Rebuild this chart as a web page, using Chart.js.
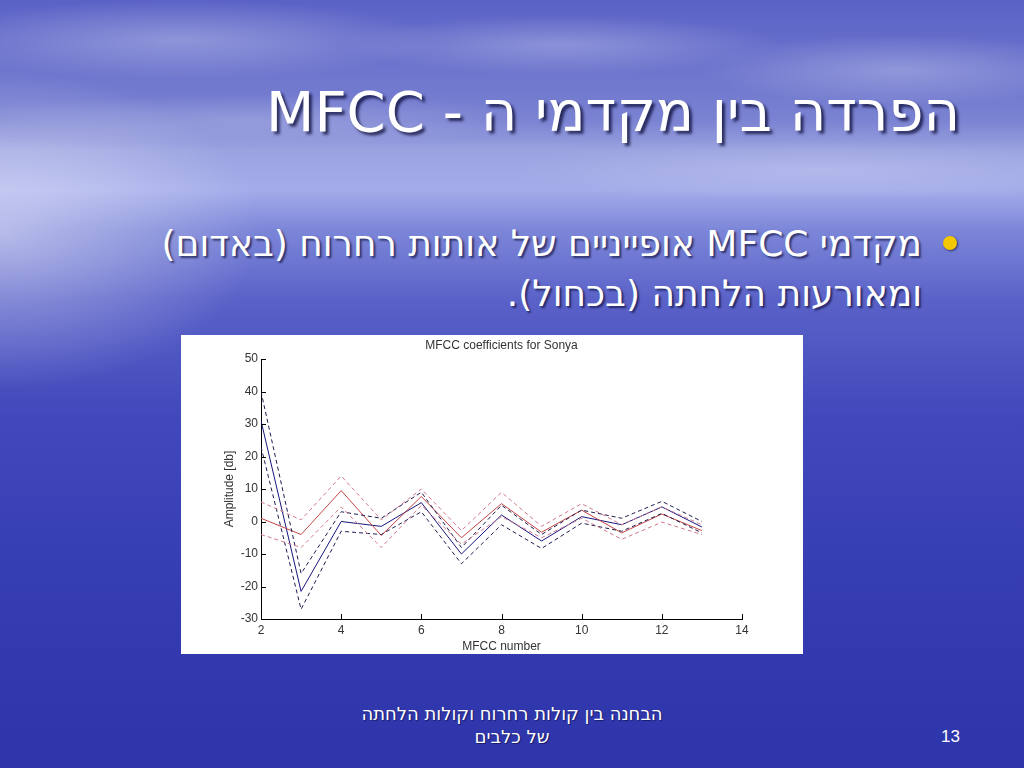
<!DOCTYPE html>
<html lang="he">
<head>
<meta charset="utf-8">
<title>MFCC</title>
<script src="https://cdn.jsdelivr.net/npm/chart.js@4.4.1/dist/chart.umd.min.js"></script>
<style>
  html, body { margin: 0; padding: 0; }
  body {
    width: 1024px; height: 768px; overflow: hidden; position: relative;
    font-family: "DejaVu Sans", sans-serif;
    background:
      radial-gradient(ellipse 260px 40px at 180px 40px, rgba(255,255,255,0.28), rgba(255,255,255,0) 100%),
      radial-gradient(ellipse 220px 30px at 560px 45px, rgba(255,255,255,0.25), rgba(255,255,255,0) 100%),
      radial-gradient(ellipse 200px 35px at 900px 70px, rgba(255,255,255,0.25), rgba(255,255,255,0) 100%),
      radial-gradient(ellipse 300px 25px at 250px 120px, rgba(255,255,255,0.2), rgba(255,255,255,0) 100%),
      radial-gradient(ellipse 320px 30px at 820px 170px, rgba(255,255,255,0.2), rgba(255,255,255,0) 100%),
      radial-gradient(ellipse 260px 160px at 0px 230px, rgba(255,255,255,0.45), rgba(255,255,255,0) 100%),
      linear-gradient(to bottom, #5a62c6 0px, #7a82d2 120px, #9aa2e0 150px, #a4acea 190px, #7c86d8 230px,
                      #5a62c8 300px, #4048bb 420px, #353cb2 600px, #2e35aa 768px);
  }
  #title {
    position: absolute; right: 64px; top: 77px;
    color: #fff; font-size: 56px; line-height: 70px; direction: rtl; white-space: nowrap;
    text-shadow: 3px 3px 3px rgba(0,0,40,0.7);
  }
  #bullet {
    position: absolute; right: 102px; top: 219px; width: 820px;
    color: #fff; font-size: 36px; line-height: 50px; direction: rtl; text-align: right; white-space: nowrap;
    text-shadow: 2px 2px 2px rgba(0,0,40,0.6);
  }
  #dot {
    position: absolute; left: 943px; top: 236px; width: 14px; height: 14px; border-radius: 50%;
    background: #f4c800; box-shadow: 1px 1px 2px rgba(0,0,40,0.6);
  }
  #chartBox {
    position: absolute; left: 181px; top: 335px; width: 622px; height: 319px; background: #fff;
  }
  #footer {
    position: absolute; left: 262px; width: 500px; top: 702px;
    color: #fff; font-size: 18px; line-height: 23px; direction: rtl; text-align: center;
    text-shadow: 1px 1px 1px rgba(0,0,40,0.5);
  }
  #page {
    position: absolute; left: 941px; top: 727px; color: #fff; font-size: 17px;
    font-family: "Liberation Sans", Arial, sans-serif;
  }
</style>
</head>
<body>
<div id="title">הפרדה בין מקדמי ה - MFCC</div>
<div id="dot"></div>
<div id="bullet">מקדמי MFCC אופייניים של אותות רחרוח (באדום)<br>ומאורעות הלחתה (בכחול).</div>
<div id="chartBox"><canvas id="chartMfcc"></canvas></div>
<div id="footer">הבחנה בין קולות רחרוח וקולות הלחתה<br>של כלבים</div>
<div id="page">13</div>

<script>
// מספרי המקדמים
const coefs = [2, 3, 4, 5, 6, 7, 8, 9, 10, 11, 12, 13];

// הלחתה (כחול) - ממוצע וסטיית תקן
const blueMean  = [31, -21.5, 0, -1.5, 5.8, -10, 2, -6, 1.5, -1, 4.5, -1.7];
const blueUpper = [40, -16, 3, 1, 9, -8, 5, -4, 3.5, 1, 6.2, 0];
const blueLower = [23, -27, -3, -4, 3, -13, -1, -8.3, -0.5, -3, 2.5, -3.5];

// רחרוח (אדום)
const redMean  = [1, -4, 9.5, -4.3, 7.7, -5, 5.5, -3.3, 3.5, -3.5, 2.3, -2.8];
const redUpper = [6, 0.5, 14, 0.5, 10, -2.8, 9, -1.5, 5.5, -1, 4.5, -1];
const redLower = [-4, -8, 4.5, -8, 5, -7, 1.5, -5, 1, -5.5, -0.2, -4];

const xTicks = [2, 4, 6, 8, 10, 12, 14];
const yTicks = [-30, -20, -10, 0, 10, 20, 30, 40, 50];

function pts(vals) {
  return coefs.map((c, i) => ({ x: c, y: vals[i] }));
}

function serie(vals, color, dashed) {
  return {
    data: pts(vals),
    borderColor: color,
    borderWidth: 1,
    borderDash: dashed ? [4, 3] : [],
    pointRadius: 0,
    tension: 0,
    fill: false
  };
}

// ticks vers l'interieur, style matlab
const innerTicks = {
  id: 'innerTicks',
  afterDraw(chart) {
    const ctx = chart.ctx;
    const xs = chart.scales.x, ys = chart.scales.y;
    ctx.save();
    ctx.strokeStyle = '#000';
    ctx.lineWidth = 1;
    ctx.beginPath();
    xs.ticks.forEach((t, i) => {
      const px = Math.round(xs.getPixelForTick(i)) + 0.5;
      ctx.moveTo(px, ys.bottom);
      ctx.lineTo(px, ys.bottom - 5);
    });
    ys.ticks.forEach((t, i) => {
      const py = Math.round(ys.getPixelForTick(i)) + 0.5;
      ctx.moveTo(xs.left, py);
      ctx.lineTo(xs.left + 5, py);
    });
    ctx.stroke();
    ctx.restore();
  }
};

const tickFont = { family: 'Liberation Sans, Arial, sans-serif', size: 12 };

document.addEventListener('DOMContentLoaded', function () {
  new Chart(document.getElementById('chartMfcc'), {
    type: 'line',
    data: {
      datasets: [
        serie(redUpper, '#d07a8c', true),
        serie(redLower, '#d07a8c', true),
        serie(blueUpper, '#1c1c50', true),
        serie(blueLower, '#1c1c50', true),
        serie(redMean, '#c24444', false),
        serie(blueMean, '#16167e', false)
      ]
    },
    options: {
      responsive: true,
      maintainAspectRatio: false,
      animation: false,
      layout: { padding: { left: 0, right: 61, top: 0, bottom: 0 } },
      plugins: {
        legend: { display: false },
        tooltip: { enabled: false },
        title: {
          display: true,
          fullSize: false,
          text: 'MFCC coefficients for Sonya',
          color: '#333',
          font: { family: 'Liberation Sans, Arial, sans-serif', size: 12, weight: 'normal' },
          padding: { top: 3, bottom: 6.6 }
        }
      },
      scales: {
        x: {
          type: 'linear',
          min: 2, max: 14,
          afterBuildTicks(scale) { scale.ticks = xTicks.map(v => ({ value: v })); },
          afterFit(scale) { scale.height = 35; },
          grid: { display: false, drawTicks: false },
          border: { display: true, color: '#000', width: 1 },
          ticks: { color: '#333', font: tickFont, padding: 4, maxRotation: 0 },
          title: {
            display: true, text: 'MFCC number', color: '#333',
            font: tickFont, padding: { top: 0.8, bottom: 0 }
          }
        },
        y: {
          min: -30, max: 50,
          afterBuildTicks(scale) { scale.ticks = yTicks.map(v => ({ value: v })); },
          afterFit(scale) { scale.width = 80; },
          grid: { display: false, drawTicks: false },
          border: { display: true, color: '#000', width: 1 },
          ticks: { color: '#333', font: tickFont, padding: 3 },
          title: {
            display: true, text: 'Amplitude [db]', color: '#333',
            font: tickFont, padding: { top: 41, bottom: 0 }
          }
        }
      }
    },
    plugins: [innerTicks]
  });
});
</script>
</body>
</html>
